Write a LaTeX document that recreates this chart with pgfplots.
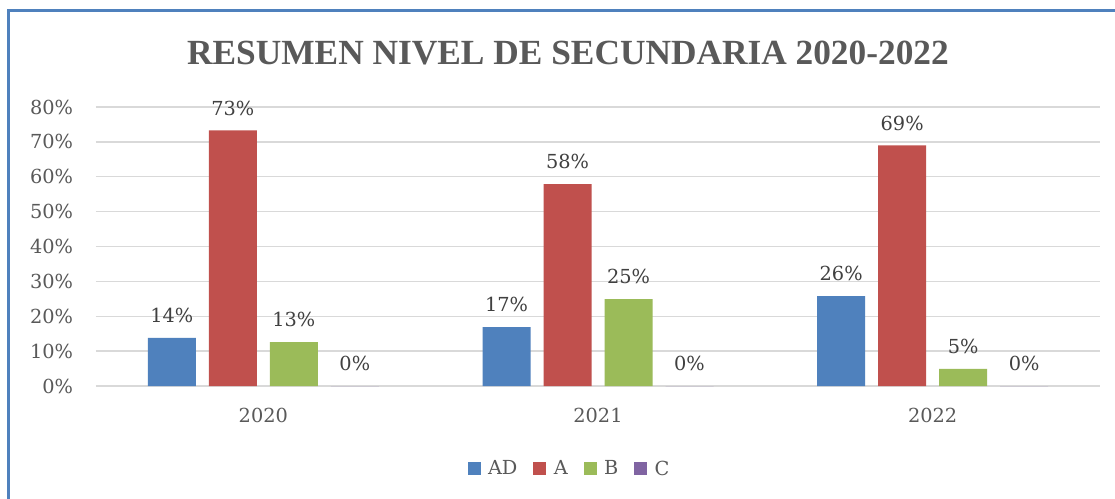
\documentclass[border=0pt]{standalone}
\usepackage{pgfplots}
\pgfplotsset{compat=1.18}
\usepackage{fontspec}
\setmainfont{Liberation Serif}
\newfontfamily\lblfont{DejaVu Serif}
\definecolor{cAD}{HTML}{4F81BD}
\definecolor{cA}{HTML}{C0504D}
\definecolor{cB}{HTML}{9BBB59}
\definecolor{cC}{HTML}{8064A2}
\definecolor{txt}{HTML}{595959}
\definecolor{lbl}{HTML}{404040}
\definecolor{grd}{HTML}{D9D9D9}
\begin{document}
\begin{tikzpicture}
% canvas 1115x499 px, 1px = 0.75pt
\path[use as bounding box, fill=white] (0pt,0pt) rectangle (836.25pt,-374.25pt);
\draw[cAD, line width=2.25pt] (6.4pt,-374.25pt) -- (6.4pt,-7.9pt) -- (836.25pt,-7.9pt);
\node[text=txt, font=\fontsize{26.5}{31}\selectfont\bfseries] at (426pt,-39.5pt) {RESUMEN NIVEL DE SECUNDARIA 2020-2022};
\begin{axis}[
    at={(72pt,-289.5pt)}, anchor=south west,
    scale only axis,
    width=753pt, height=209.25pt,
    xmin=-0.5, xmax=2.5,
    ymin=0, ymax=80,
    ytick={0,10,...,80},
    xtick={0,1,2},
    xticklabels={2020,2021,2022},
    yticklabel={\pgfmathprintnumber{\tick}\%},
    /pgf/number format/assume math mode=true,
    major tick length=0pt,
    axis line style={draw=none},
    ymajorgrids,
    major grid style={draw=grd, line width=1pt},
    tick label style={text=txt, font=\fontsize{14.5}{17}\lblfont},
    yticklabel style={inner sep=0pt, anchor=east, xshift=-17pt},
    xticklabel style={inner sep=0pt, anchor=north, yshift=-16.5pt},
    ybar=9.75pt,
    bar width=36pt,
    nodes near coords={\pgfmathprintnumber[fixed,precision=0]{\pgfplotspointmeta}\%},
    nodes near coords style={text=lbl, font=\fontsize{14.5}{17}\lblfont, inner sep=0pt, yshift=11pt, /pgf/number format/assume math mode=true},
    legend style={at={(0.472,-0.297)}, anchor=center, draw=none, fill=none,
        legend columns=4, font=\fontsize{14.5}{17}\lblfont, text=txt,
        /tikz/every odd column/.append style={column sep=3.5pt},
        /tikz/every even column/.append style={column sep=10pt}},
    legend image code/.code={\fill[#1] (0pt,-4.9pt) rectangle (9.75pt,4.9pt);},
]
\addplot[fill=cAD, draw=none] coordinates {(0,13.8) (1,16.9) (2,25.8)};
\addlegendentry{AD}
\addplot[fill=cA, draw=none] coordinates {(0,73.3) (1,57.9) (2,69.0)};
\addlegendentry{A}
\addplot[fill=cB, draw=none] coordinates {(0,12.6) (1,24.9) (2,4.9)};
\addlegendentry{B}
\addplot[fill=cC, draw=none] coordinates {(0,0) (1,0) (2,0)};
\addlegendentry{C}
\end{axis}
\end{tikzpicture}
\end{document}
